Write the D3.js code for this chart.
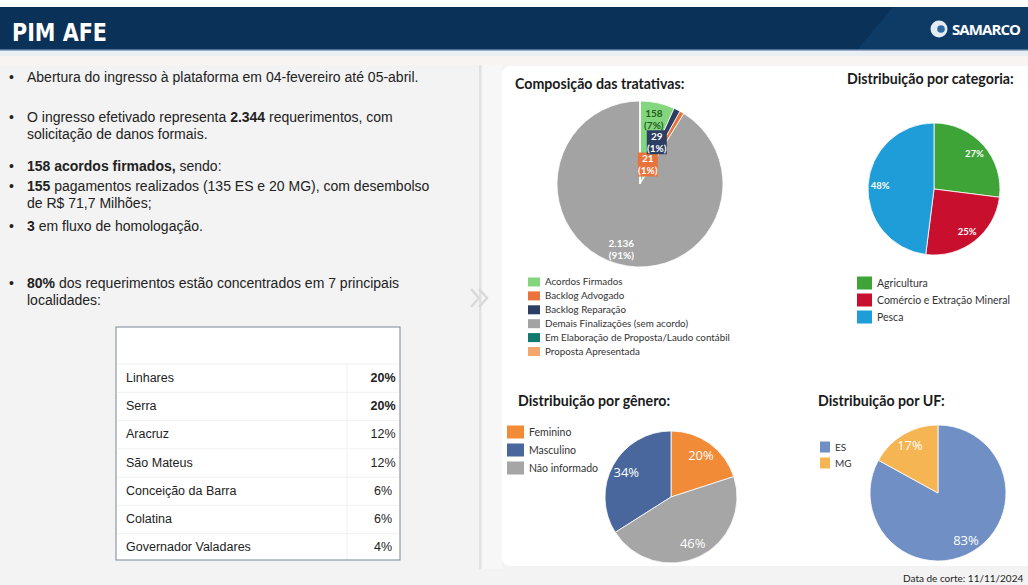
<!DOCTYPE html>
<html>
<head>
<meta charset="utf-8">
<script src="https://cdn.jsdelivr.net/npm/d3@7"></script>
<style>
  body { margin: 0; background: #f3f3f3; }
  svg { display: block; }
</style>
</head>
<body>
<script>
// ---- data ----
const composicaoCats = ["Acordos Firmados", "Backlog Advogado", "Backlog Reparação", "Demais Finalizações (sem acordo)", "Em Elaboração de Proposta/Laudo contábil", "Proposta Apresentada"];
const composicaoVals = [158, 21, 29, 2136, 0, 0];
const composicaoColors = ["#84d67e", "#e8743b", "#2c3e63", "#a3a3a3", "#127a6c", "#f5a66c"];
const composicaoOrder = [0, 2, 1, 3, 4, 5]; // order slices are drawn clockwise

const categoriaCats = ["Agricultura", "Comércio e Extração Mineral", "Pesca"];
const categoriaVals = [27, 25, 48];
const categoriaColors = ["#3ea437", "#c8102e", "#1f9dd9"];

const generoCats = ["Feminino", "Masculino", "Não informado"];
const generoVals = [20, 34, 46];
const generoColors = ["#f28b37", "#49679c", "#a6a6a6"];
const generoOrder = [0, 2, 1];

const ufCats = ["ES", "MG"];
const ufVals = [83, 17];
const ufColors = ["#6f8fc5", "#f6b553"];

const localidades = ["Linhares", "Serra", "Aracruz", "São Mateus", "Conceição da Barra", "Colatina", "Governador Valadares"];
const localidadesPct = [20, 20, 12, 12, 6, 6, 4];

// bullet text, each line is a list of [text, bold]
const bulletLines = [
  {y: 82, bullet: true, parts: [["Abertura do ingresso à plataforma em 04-fevereiro até 05-abril.", false]]},
  {y: 122, bullet: true, parts: [["O ingresso efetivado representa ", false], ["2.344", true], [" requerimentos, com", false]]},
  {y: 139, bullet: false, parts: [["solicitação de danos formais.", false]]},
  {y: 171, bullet: true, parts: [["158 acordos firmados,", true], [" sendo:", false]]},
  {y: 191, bullet: true, parts: [["155", true], [" pagamentos realizados (135 ES e 20 MG), com desembolso", false]]},
  {y: 208, bullet: false, parts: [["de R$ 71,7 Milhões;", false]]},
  {y: 231, bullet: true, parts: [["3", true], [" em fluxo de homologação.", false]]},
  {y: 288, bullet: true, parts: [["80%", true], [" dos requerimentos estão concentrados em 7 principais", false]]},
  {y: 305, bullet: false, parts: [["localidades:", false]]}
];

const width = 1028;
const height = 585;

const svg = d3.select("body").append("svg")
  .attr("width", width)
  .attr("height", height);

// ---- background ----
svg.append("rect").attr("width", width).attr("height", height).attr("fill", "#f3f3f3");
svg.append("rect").attr("width", width).attr("height", 7).attr("fill", "#ffffff");
svg.append("rect").attr("y", 50).attr("width", width).attr("height", 6).attr("fill", "#eaeff4");
svg.append("rect").attr("y", 56).attr("width", width).attr("height", 9).attr("fill", "#f8f4f1");
svg.append("rect").attr("x", 482).attr("y", 65).attr("width", 20).attr("height", 504).attr("fill", "#f7f7f7");
svg.append("rect").attr("x", 479).attr("y", 65).attr("width", 2.5).attr("height", 504).attr("fill", "#e2e2e2");
// chevron
svg.append("path")
  .attr("d", "M471,289 L479,298 L471,307 M479,289 L487,298 L479,307")
  .attr("fill", "none").attr("stroke", "#d9d9d9").attr("stroke-width", 2.5);

// white chart panel
svg.append("rect")
  .attr("x", 502).attr("y", 66).attr("width", 540).attr("height", 500)
  .attr("rx", 8).attr("fill", "#ffffff");

// ---- header ----
svg.append("rect").attr("y", 7).attr("width", width).attr("height", 43).attr("fill", "#0a3158");
svg.append("path").attr("d", "M893,7 L1028,7 L1028,50 L857,50 Z").attr("fill", "#0e3b66");
svg.append("rect").attr("y", 49).attr("width", width).attr("height", 1.5).attr("fill", "#4b6f96");
svg.append("text")
  .attr("x", 12).attr("y", 41)
  .attr("font-family", "'Liberation Sans Narrow', 'DejaVu Sans Condensed', Arial, sans-serif")
  .attr("font-weight", "bold").attr("font-size", 24).attr("fill", "#ffffff")
  .attr("textLength", 95).attr("lengthAdjust", "spacingAndGlyphs")
  .text("PIM AFE");
// logo
svg.append("circle").attr("cx", 939).attr("cy", 29).attr("r", 8.5).attr("fill", "#e4ebf2");
svg.append("circle").attr("cx", 941).attr("cy", 29).attr("r", 3.8).attr("fill", "#2f6aa3");
svg.append("text")
  .attr("x", 952).attr("y", 35)
  .attr("font-family", "'Open Sans', Arial, sans-serif")
  .attr("font-weight", "bold").attr("font-size", 15).attr("fill", "#ffffff")
  .attr("textLength", 69)
  .text("SAMARCO");

// ---- left text ----
const leftFont = "'Liberation Sans', Arial, sans-serif";
bulletLines.forEach(function(line) {
  if (line.bullet) {
    svg.append("text").attr("x", 9).attr("y", line.y)
      .attr("font-family", leftFont).attr("font-size", 14).attr("fill", "#222")
      .text("•");
  }
  const t = svg.append("text").attr("x", 27).attr("y", line.y)
    .attr("font-family", leftFont).attr("font-size", 14).attr("fill", "#222");
  line.parts.forEach(function(p) {
    t.append("tspan").attr("font-weight", p[1] ? "bold" : "normal").text(p[0]);
  });
});

// ---- table ----
const table = {x: 116, y: 327, w: 284, bottom: 560};
const rowY = d3.scaleBand()
  .domain(localidades)
  .range([364, 562]);
const tg = svg.append("g");
tg.append("rect")
  .attr("x", table.x).attr("y", table.y).attr("width", table.w).attr("height", table.bottom - table.y)
  .attr("fill", "#ffffff").attr("stroke", "#7b8594").attr("stroke-width", 1);
tg.append("line")
  .attr("x1", table.x + 1).attr("x2", table.x + table.w - 1)
  .attr("y1", 364).attr("y2", 364).attr("stroke", "#f0f0f0");
tg.append("line")
  .attr("x1", 347).attr("x2", 347)
  .attr("y1", 364).attr("y2", table.bottom - 1).attr("stroke", "#f0f0f0");
tg.selectAll(".rowline")
  .data(localidades.slice(1))
  .enter().append("line")
  .attr("class", "rowline")
  .attr("x1", table.x + 1).attr("x2", table.x + table.w - 1)
  .attr("y1", d => rowY(d)).attr("y2", d => rowY(d))
  .attr("stroke", "#f0f0f0");
tg.selectAll(".loc")
  .data(localidades)
  .enter().append("text")
  .attr("x", 126)
  .attr("y", d => rowY(d) + rowY.bandwidth() / 2 + 3.5)
  .attr("font-family", leftFont).attr("font-size", 12.5).attr("fill", "#222")
  .text(d => d);
tg.selectAll(".pct")
  .data(localidadesPct)
  .enter().append("text")
  .attr("x", 383)
  .attr("y", (d, i) => rowY(localidades[i]) + rowY.bandwidth() / 2 + 3.5)
  .attr("text-anchor", "middle")
  .attr("font-family", leftFont).attr("font-size", 12.5).attr("fill", "#222")
  .attr("font-weight", (d, i) => i < 2 ? "bold" : "normal")
  .text(d => d + "%");

// ---- charts ----
const chartFont = "Lato, 'Open Sans', sans-serif";

function title(x, y, txt) {
  svg.append("text").attr("x", x).attr("y", y)
    .attr("font-family", chartFont).attr("font-weight", "bold")
    .attr("font-size", 14.2).attr("fill", "#1a1a1a")
    .text(txt);
}

function legend(x, y, step, sw, sh, fontSize, cats, colors) {
  const g = svg.append("g").attr("transform", "translate(" + x + "," + y + ")");
  const items = g.selectAll("g").data(cats).enter().append("g")
    .attr("transform", (d, i) => "translate(0," + i * step + ")");
  items.append("rect").attr("width", sw).attr("height", sh)
    .attr("y", -sh / 2)
    .attr("fill", (d, i) => colors[i]);
  items.append("text").attr("x", sw + 5).attr("y", fontSize * 0.35)
    .attr("font-family", chartFont).attr("font-size", fontSize).attr("fill", "#333")
    .text(d => d);
}

function pieChart(cx, cy, r, vals, colors, order) {
  const idx = vals.map((v, i) => i);
  const pie = d3.pie()
    .value(i => vals[i])
    .sort(order ? (a, b) => order.indexOf(a) - order.indexOf(b) : null);
  const arcs = pie(idx);
  const arc = d3.arc().innerRadius(0).outerRadius(r);
  const g = svg.append("g").attr("transform", "translate(" + cx + "," + cy + ")");
  g.selectAll("path").data(arcs).enter().append("path")
    .attr("d", arc)
    .attr("fill", d => colors[d.data])
    .attr("stroke", "#ffffff").attr("stroke-width", 0.8);
  return {g: g, arcs: arcs};
}

function centroidAt(d, rad) {
  return d3.arc().innerRadius(rad).outerRadius(rad).centroid(d);
}

// Composição das tratativas
title(515, 89, "Composição das tratativas:");
const total1 = d3.sum(composicaoVals);
const p1 = pieChart(640, 184, 83, composicaoVals, composicaoColors, composicaoOrder);
const fmt = d3.format(",d");
const ptBR = v => fmt(v).replace(/,/g, ".");
const labelRad1 = {0: 66, 1: 21, 2: 45, 3: 68};
const labelShift1 = {0: 0, 1: -0.15, 2: -0.08, 3: 0};
const labelBox1 = {1: "#e8743b", 2: "#2c3e63"};
const labelTxt1 = {0: "#1f5f1c", 1: "#ffffff", 2: "#ffffff", 3: "#ffffff"};
p1.arcs.filter(d => d.value > 0).forEach(function(d) {
  const i = d.data;
  const mid = (d.startAngle + d.endAngle) / 2 + labelShift1[i];
  const c = centroidAt({startAngle: mid, endAngle: mid}, labelRad1[i]);
  const lg = p1.g.append("g").attr("transform", "translate(" + c[0] + "," + c[1] + ")");
  if (labelBox1[i]) {
    lg.append("rect").attr("x", -10).attr("y", -12).attr("width", 20).attr("height", 24)
      .attr("fill", labelBox1[i]);
  }
  const pct = Math.round(d.value / total1 * 100) + "%";
  lg.append("text").attr("text-anchor", "middle").attr("y", -2)
    .attr("font-family", chartFont).attr("font-weight", "bold").attr("font-size", 10)
    .attr("fill", labelTxt1[i]).text(ptBR(d.value));
  lg.append("text").attr("text-anchor", "middle").attr("y", 10)
    .attr("font-family", chartFont).attr("font-weight", "bold").attr("font-size", 10)
    .attr("fill", labelTxt1[i]).text("(" + pct + ")");
});
legend(528, 282, 13.9, 12, 9, 9.8, composicaoCats, composicaoColors);

// Distribuição por categoria
title(847, 84, "Distribuição por categoria:");
const p2 = pieChart(934, 189, 66, categoriaVals, categoriaColors, null);
p2.g.selectAll(".lbl").data(p2.arcs).enter().append("text")
  .attr("transform", d => "translate(" + centroidAt(d, 54) + ")")
  .attr("text-anchor", "middle").attr("dy", "0.35em")
  .attr("font-family", chartFont).attr("font-weight", "bold").attr("font-size", 9.5)
  .attr("fill", "#ffffff")
  .text(d => categoriaVals[d.data] + "%");
legend(857, 283, 17, 15, 13, 10.5, categoriaCats, categoriaColors);

// Distribuição por gênero
title(518, 406, "Distribuição por gênero:");
const p3 = pieChart(671, 497, 66, generoVals, generoColors, generoOrder);
p3.g.selectAll(".lbl").data(p3.arcs).enter().append("text")
  .attr("transform", d => "translate(" + centroidAt(d, 51) + ")")
  .attr("text-anchor", "middle").attr("dy", "0.35em")
  .attr("font-family", "'Open Sans', sans-serif").attr("font-size", 13)
  .attr("fill", "#ffffff")
  .text(d => generoVals[d.data] + "%");
legend(507, 432, 18, 17, 13, 10.5, generoCats, generoColors);

// Distribuição por UF
title(818, 406, "Distribuição por UF:");
const p4 = pieChart(938, 493, 68, ufVals, ufColors, null);
p4.g.selectAll(".lbl").data(p4.arcs).enter().append("text")
  .attr("transform", d => "translate(" + centroidAt(d, 55) + ")")
  .attr("text-anchor", "middle").attr("dy", "0.35em")
  .attr("font-family", "'Open Sans', sans-serif").attr("font-size", 13)
  .attr("fill", "#ffffff")
  .text(d => ufVals[d.data] + "%");
legend(820, 447, 16, 10, 11, 10, ufCats, ufColors);

// footer
svg.append("text").attr("x", 903).attr("y", 582)
  .attr("font-family", chartFont).attr("font-size", 10).attr("fill", "#222")
  .text("Data de corte: 11/11/2024");
</script>
</body>
</html>
